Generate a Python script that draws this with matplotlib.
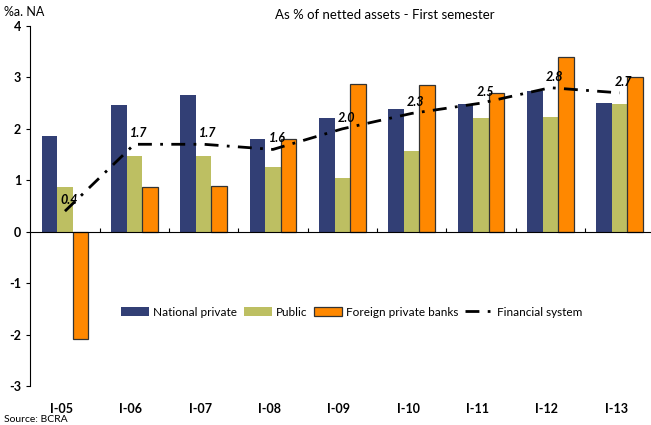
import numpy as np
import matplotlib
matplotlib.use("Agg")
from matplotlib import pyplot as plt
from matplotlib.transforms import blended_transform_factory

plt.rcParams['font.family'] = ['Lato', 'DejaVu Sans']
plt.rcParams['axes.unicode_minus'] = False

# data
periods = ['I-05', 'I-06', 'I-07', 'I-08', 'I-09', 'I-10', 'I-11', 'I-12', 'I-13']
national_private = [1.87, 2.47, 2.65, 1.81, 2.22, 2.39, 2.49, 2.74, 2.51]
public = [0.86, 1.48, 1.48, 1.25, 1.05, 1.56, 2.22, 2.24, 2.49]
foreign_private = [-2.08, 0.86, 0.88, 1.81, 2.88, 2.86, 2.70, 3.40, 3.00]
financial_system = [0.4, 1.7, 1.7, 1.6, 2.0, 2.3, 2.5, 2.8, 2.7]

fig = plt.figure(figsize=(6.51, 4.25), dpi=100)
ax = fig.add_axes([30.3 / 651, 39 / 425, 624 / 651, 360 / 425])

x = np.arange(len(periods))
w = 0.224
ax.bar(x - w, national_private, w, color='#323f75', label='National private')
ax.bar(x, public, w, color='#bdbf62', label='Public')
ax.bar(x + w, foreign_private, w, color='#ff8800', edgecolor='#333333',
       linewidth=0.9, label='Foreign private banks')
ax.plot(x, financial_system, color='black', lw=2.0,
        linestyle=(0, (5, 3, 1, 3)), label='Financial system')

for xi, v in zip(x, financial_system):
    ax.annotate(f'{v:.1f}', (xi, v), xytext=(3, 8), textcoords='offset points',
                ha='center', va='center', fontsize=9, fontweight='bold',
                style='italic')

ax.set_xlim(-0.5, len(periods) - 0.5)
ax.set_ylim(-3, 4)
ax.set_yticks(range(-3, 5))
ax.tick_params(axis='y', direction='out', length=3, labelsize=9)
for lbl in ax.get_yticklabels():
    lbl.set_fontweight('bold')

# x axis drawn through zero, labels along the bottom
ax.spines['top'].set_visible(False)
ax.spines['right'].set_visible(False)
ax.spines['bottom'].set_position(('data', 0))
ax.set_xticks(x[:-1] + 0.5)
ax.set_xticklabels([])
ax.tick_params(axis='x', direction='in', length=3)
trans = blended_transform_factory(ax.transData, ax.transAxes)
for xi, p in zip(x, periods):
    ax.text(xi - 0.05, -0.065, p, transform=trans, ha='center', va='center',
            fontsize=9, fontweight='bold')

handles, labels = ax.get_legend_handles_labels()
order = [1, 2, 3, 0]
ax.legend([handles[i] for i in order], [labels[i] for i in order],
          loc='center', bbox_to_anchor=(0.515, 0.205), ncol=4, frameon=False,
          fontsize=8.5, handlelength=2.4, handleheight=0.8, columnspacing=0.6,
          handletextpad=0.3)

fig.text(4 / 651, 1 - 12 / 425, '%a. NA', fontsize=9, va='center', ha='left')
fig.text(385 / 651, 1 - 15 / 425, 'As % of netted assets - First semester',
         fontsize=9.5, va='center', ha='center')
fig.text(4 / 651, 1 - 419 / 425, 'Source: BCRA', fontsize=7.5, va='center', ha='left')

fig.savefig('out.png', dpi=100)
